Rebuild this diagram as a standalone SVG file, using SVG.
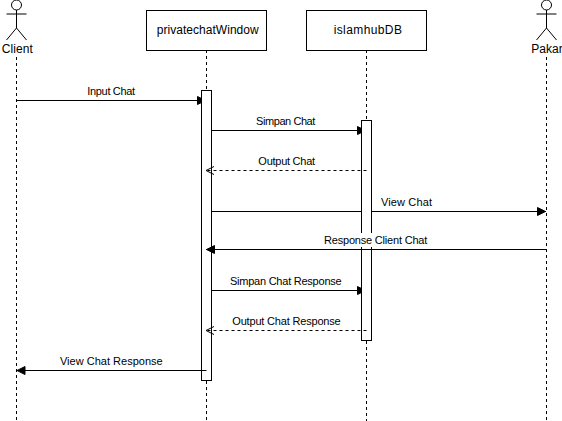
<svg xmlns="http://www.w3.org/2000/svg" width="562" height="421" viewBox="0 0 562 421">
<style>
text{font-family:"Liberation Sans",Arial,sans-serif;fill:#000;text-anchor:middle}
.n{font-size:12px}.m{font-size:11px}
.s{fill:none;stroke:#000;stroke-width:1}
.box{fill:#fff;stroke:#000;stroke-width:1}
.life{fill:none;stroke:#000;stroke-width:1;stroke-dasharray:3 3}
.msg{fill:none;stroke:#000;stroke-width:1}
.ret{fill:none;stroke:#000;stroke-width:1;stroke-dasharray:3 3}
.lb{fill:#fff}
</style>
<defs>
<marker id="f" markerUnits="userSpaceOnUse" markerWidth="11" markerHeight="10" refX="9" refY="5" orient="auto"><path d="M0.5 1L8.500 5L0.500 9Z" fill="#000" stroke="#000" stroke-width="1"/></marker>
<marker id="o" markerUnits="userSpaceOnUse" markerWidth="12" markerHeight="12" refX="9" refY="5" orient="auto"><path d="M1 1L9 5L1 9" fill="none" stroke="#000" stroke-width="1"/></marker>
<g id="actor"><circle class="s" cx="0" cy="5" r="5"/><path class="s" d="M0 10V28M-10 14H10M0 28L-10 40M0 28L10 40"/></g>
</defs>
<rect width="562" height="421" fill="#fff"/>
<g id="lifelines">
<path class="life" d="M16.5 57V421"/>
<path class="life" d="M206.5 50V90M206.5 381V421"/>
<path class="life" d="M366.5 50V120M366.5 341V421"/>
<path class="life" d="M546.5 57V421"/>
</g>
<g id="connectors-behind">
<path class="msg" d="M16.5 100.5H206" marker-end="url(#f)"/>
<path class="msg" d="M211.5 130.5H366" marker-end="url(#f)"/>
<path class="msg" d="M211.5 290.5H366" marker-end="url(#f)"/>
<path class="msg" d="M211.5 211.5H546" marker-end="url(#f)"/>
</g>
<g id="activation-window"><rect class="box" x="201.5" y="90.5" width="10" height="290"/></g>
<g id="activation-db"><rect class="box" x="361.5" y="120.5" width="10" height="220"/></g>
<g id="connectors">
<path class="ret" d="M366.5 170.5H206" marker-end="url(#o)"/>
<rect class="lb" x="322" y="233" width="108" height="14"/>
<path class="msg" d="M546.5 249.5H206" marker-end="url(#f)"/>
<path class="ret" d="M366.5 330.5H206" marker-end="url(#o)"/>
<path class="msg" d="M206.5 370.5H16.5" marker-end="url(#f)"/>
</g>
<g id="labels">
<text class="m" x="111.2" y="95" textLength="47.700">Input Chat</text>
<text class="m" x="285.700" y="125" textLength="59.300">Simpan Chat</text>
<text class="m" x="286.700" y="165" textLength="56.700">Output Chat</text>
<text class="m" x="406.500" y="206" textLength="51">View Chat</text>
<text class="m" x="375.700" y="244" textLength="103.300">Response Client Chat</text>
<text class="m" x="285.800" y="285" textLength="111.700">Simpan Chat Response</text>
<text class="m" x="286.500" y="325" textLength="108.400">Output Chat Response</text>
<text class="m" x="111.300" y="365" textLength="102.700">View Chat Response</text>
</g>
<g id="client"><use href="#actor" x="16.500"/><text class="n" x="17.300" y="53" textLength="31.300">Client</text></g>
<g id="privatechatWindow"><rect class="box" x="146.500" y="10.500" width="120" height="40"/><text class="n" x="207.700" y="34" textLength="102">privatechatWindow</text></g>
<g id="islamhubDB"><rect class="box" x="306.500" y="10.500" width="120" height="40"/><text class="n" x="367.800" y="34" textLength="68.300">islamhubDB</text></g>
<g id="pakar"><use href="#actor" x="546.500"/><text class="n" x="547" y="53">Pakar</text></g>
</svg>
